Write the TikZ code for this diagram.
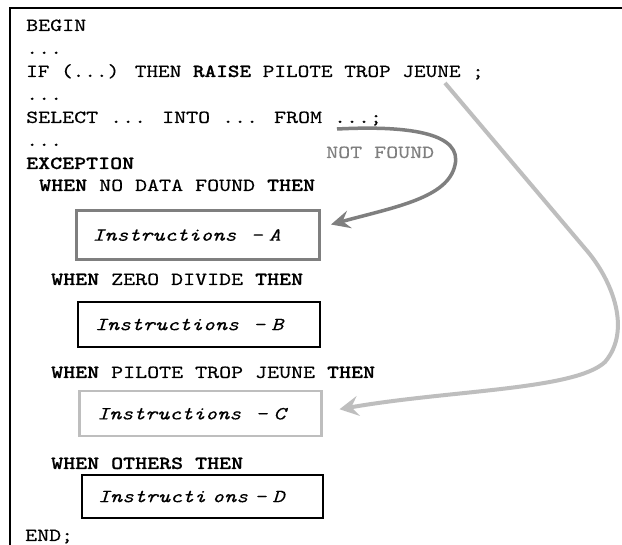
\documentclass[tikz,border=0pt]{standalone}
\usepackage{fontspec}
\usetikzlibrary{arrows.meta}
\newfontfamily\cfam{lmmono10-regular.otf}[FakeStretch=1.235, FakeBold=0.3,
   ItalicFont=lmmono10-italic.otf, ItalicFeatures={FakeStretch=1.235, FakeBold=0.2},
   BoldFont=lmmonolt10-bold.otf, BoldFeatures={FakeStretch=1.235, FakeBold=0.7}]
\definecolor{midgray}{HTML}{7F7F7F}
\definecolor{lightgray}{HTML}{BEBEBE}
\newcommand\codefont{\cfam\fontsize{18.5}{20}\selectfont}
\newcommand\instrtxt[1]{Instructions\hspace{8pt} - #1}
\begin{document}
\begin{tikzpicture}[x=1pt,y=-1pt,
  code/.style={anchor=base west, inner sep=0pt, font=\codefont},
  instr/.style={anchor=north west, inner ysep=0pt, align=left,
     font=\codefont\itshape, line width=2pt},
  darr/.style={draw=midgray, line width=3.5pt, -{Stealth[length=19pt,width=18pt,inset=7pt]}},
  larr/.style={draw=lightgray, line width=4pt, -{Stealth[length=19pt,width=20pt,inset=7pt]}}]
\useasboundingbox (0,0) rectangle (622,545);
\fill[white] (0,0) rectangle (622,545);
% frame
\draw[line width=2pt] (9.5,545) -- (9.5,8) -- (622,8);
% code lines
\node[code] (begin) at (26,31) {BEGIN};
\node[code] (d1) at (26,54) {...};
\node[code] (ifl) at (26,77) {\scalebox{0.97}[1]{IF (...) THEN \textbf{RAISE} PILOTE TROP JEUNE ;}};
\node[code] (d2) at (26,100) {...};
\node[code] (sel) at (26,123) {SELECT ... INTO ... FROM ...;};
\node[code] (d3) at (26,146) {...};
\node[code] (exc) at (26,169) {\textbf{EXCEPTION}};
\node[code] (w1) at (39,191) {\textbf{WHEN} NO DATA FOUND \textbf{THEN}};
\node[code] (w2) at (51,285) {\textbf{WHEN} ZERO DIVIDE \textbf{THEN}};
\node[code] (w3) at (51,378) {\textbf{WHEN} PILOTE TROP JEUNE \textbf{THEN}};
\node[code] (w4) at (51,469) {\textbf{WHEN OTHERS THEN}};
\node[code] (end) at (25,541) {END;};
\node[code, text=midgray] (nf) at (326,158) {NOT FOUND};
% instruction boxes
\node[instr, draw=midgray, line width=3pt, inner xsep=16pt, text width=211pt, minimum height=49pt] (boxA) at (75,209) {\instrtxt{A}};
\node[instr, draw=black, inner xsep=17pt, text width=208pt, minimum height=45pt] (boxB) at (77,301) {\instrtxt{B}};
\node[instr, draw=lightgray, line width=2.5pt, inner xsep=18pt, text width=206pt, minimum height=45pt] (boxC) at (78,390) {\instrtxt{C}};
\node[instr, draw=black, inner xsep=16pt, text width=209pt, minimum height=43pt] (boxD) at (81,474) {Instructi ons - D};
% arrows
\coordinate (nfstart) at (337,129);
\draw[darr] (nfstart) .. controls (415,125) and (462,135) .. (455,165)
   .. controls (448,198) and (395,207) .. ([xshift=10pt,yshift=10.5pt]boxA.east);
\coordinate (pjstart) at (445,83);
\draw[larr] (pjstart) -- (588,252) .. controls (612,281) and (632,330) .. (605,362)
   .. controls (575,390) and (450,390) .. ([xshift=17pt,yshift=4.5pt]boxC.east);
\end{tikzpicture}
\end{document}
